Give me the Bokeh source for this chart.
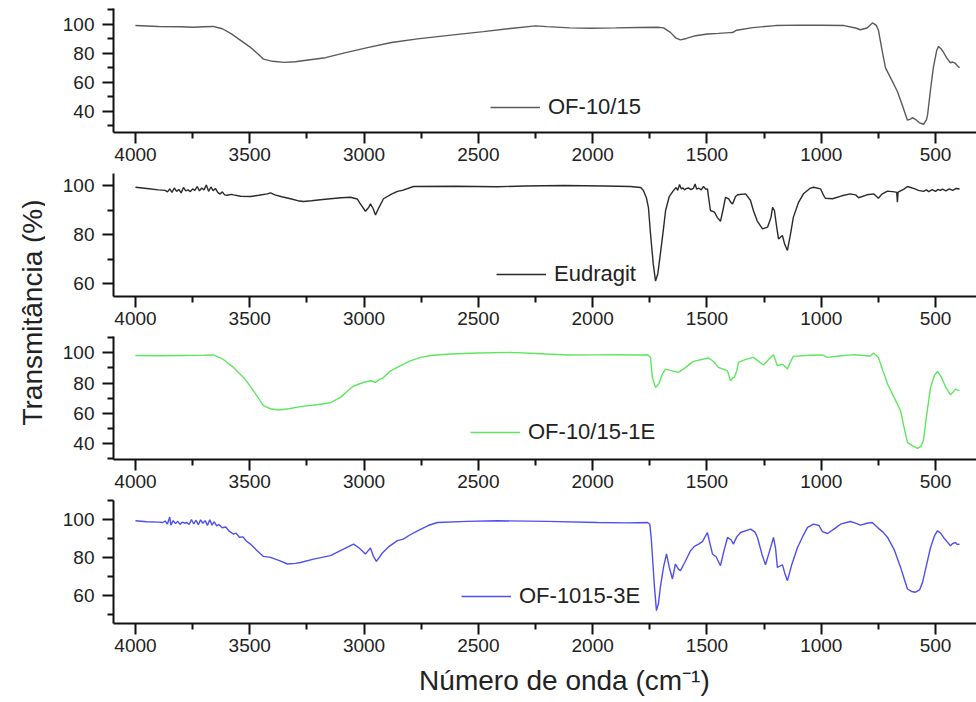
import math
from bokeh.plotting import figure
from bokeh.layouts import row, column
from bokeh.models import Range1d, FixedTicker, Legend, LegendItem, Label
from bokeh.embed import file_html
from bokeh.resources import INLINE

FONT = "Liberation Sans"
TEXT = "#222222"

# ---- FTIR spectra: wavenumber (cm-1) and transmittance (%) ----
wn_of1015 = [4000, 3900, 3800, 3750, 3700, 3660, 3620, 3580, 3540, 3500, 3460, 3440, 3400, 3350,
             3300, 3278, 3169, 3080, 2985, 2880, 2766, 2620, 2478, 2360, 2250, 2200, 2100, 2009,
             1900, 1800, 1716, 1690, 1660, 1635, 1616, 1590, 1550, 1498, 1450, 1400, 1388, 1370,
             1300, 1200, 1100, 1000, 900, 850, 829, 800, 776, 760, 750, 735, 719, 690, 667, 645,
             623, 610, 601, 585, 570, 553, 540, 535, 522, 510, 495, 487, 475, 465, 450, 435, 425,
             413, 405, 395]
t_of1015 = [99.3, 98.6, 98.4, 98.0, 98.4, 98.6, 97.0, 93.5, 89.0, 84.5, 79.0, 76.0, 74.5, 73.8,
            74.2, 74.7, 77.0, 80.5, 84.0, 87.5, 90.0, 92.6, 95.0, 97.2, 99.0, 98.5, 97.6, 97.4,
            97.6, 97.9, 98.0, 97.6, 94.5, 90.5, 89.3, 90.3, 92.2, 93.4, 93.8, 94.3, 94.4, 96.0,
            97.8, 99.2, 99.5, 99.4, 99.2, 97.5, 96.3, 97.5, 101.0, 99.5, 96.0, 83.0, 70.0, 61.0, 53.6, 44.0,
            33.8, 34.5, 35.6, 34.0, 32.0, 31.0, 34.0, 37.5, 55.0, 70.0, 82.0, 84.8, 83.0, 80.6, 76.5, 73.5, 74.0,
            73.0, 71.5, 70.0]

wn_eud = [4000, 3950, 3900, 3870, 3860, 3850, 3840, 3830, 3820, 3810, 3800, 3790, 3780, 3770,
          3760, 3750, 3740, 3730, 3720, 3710, 3700, 3690, 3680, 3670, 3660, 3650, 3640, 3630,
          3620, 3610, 3600, 3580, 3571, 3540, 3497, 3460, 3423, 3409, 3390, 3360, 3322, 3290,
          3265, 3230, 3191, 3147, 3100, 3060, 3030, 3016, 2994, 2980, 2972, 2960, 2950, 2935,
          2915, 2880, 2854, 2832, 2784, 2600, 2418, 2300, 2128, 1950, 1835, 1790, 1778, 1765,
          1756, 1747, 1735, 1725, 1715, 1704, 1692, 1681, 1665, 1646, 1635, 1628, 1620, 1612,
          1605, 1598, 1590, 1580, 1570, 1560, 1552, 1545, 1535, 1525, 1515, 1505, 1498, 1485,
          1467, 1455, 1441, 1430, 1419, 1405, 1395, 1388, 1375, 1366, 1331, 1310, 1297, 1280,
          1257, 1235, 1220, 1213, 1205, 1195, 1187, 1170, 1160, 1148, 1135, 1122, 1100, 1078,
          1050, 1034, 1003, 990, 982, 951, 910, 873, 850, 837, 800, 771, 750, 735, 710, 680,
          670, 667, 664, 640, 623, 590, 575, 553, 540, 530, 515, 500, 490, 479, 470, 455, 440,
          425, 410, 395]
t_eud = [99.3, 98.8, 98.2, 98.0, 97.4, 98.6, 97.2, 99.0, 97.6, 98.4, 97.0, 99.2, 97.8, 98.2,
         97.5, 98.6, 98.0, 99.6, 97.8, 99.0, 98.2, 100.2, 97.6, 99.4, 97.9, 98.8, 97.2, 96.5,
         97.4, 96.2, 96.0, 96.4, 96.2, 95.6, 95.5, 96.0, 96.6, 97.0, 96.2, 95.4, 94.6, 93.8,
         93.5, 93.8, 94.2, 94.6, 95.0, 95.2, 94.5, 92.5, 89.5, 91.0, 92.5, 90.5, 88.0, 91.0,
         94.6, 96.5, 97.6, 98.0, 99.6, 99.7, 99.5, 99.8, 100.0, 99.8, 99.6, 99.2, 98.0, 95.0,
         91.0, 80.3, 68.0, 61.0, 64.0, 72.0, 81.0, 89.8, 95.5, 98.0, 99.2, 98.0, 100.4, 98.6,
         99.0, 98.2, 98.8, 99.0, 98.3, 98.8, 100.6, 98.5, 98.9, 98.2, 99.6, 98.4, 98.6, 89.8,
         89.1, 87.0, 85.4, 90.0, 95.2, 94.5, 93.0, 92.5, 95.5, 96.2, 96.6, 94.0, 89.8, 85.5,
         82.3, 83.0, 87.0, 91.1, 89.8, 83.0, 78.2, 79.6, 76.0, 73.5, 80.0, 87.1, 93.0, 96.6,
         98.8, 99.3, 98.6, 96.0, 94.8, 94.6, 95.8, 96.6, 96.2, 95.0, 96.2, 96.6, 94.8, 96.5, 97.7, 97.4,
         97.2, 93.2, 97.3, 98.4, 99.6, 98.6, 98.0, 97.6, 98.2, 97.5, 98.3, 97.6, 98.4, 98.0, 98.5, 97.8, 98.6,
         98.0, 98.8, 98.6]

wn_of1e = [4000, 3900, 3800, 3700, 3658, 3620, 3571, 3520, 3480, 3440, 3410, 3374, 3330, 3278,
           3200, 3147, 3103, 3070, 3046, 3000, 2972, 2960, 2950, 2935, 2920, 2884, 2840, 2800,
           2753, 2700, 2622, 2500, 2360, 2250, 2110, 2000, 1900, 1791, 1760, 1747, 1739, 1725,
           1710, 1695, 1681, 1660, 1625, 1600, 1560, 1493, 1470, 1450, 1410, 1397, 1390, 1380,
           1370, 1362, 1330, 1297, 1253, 1230, 1209, 1192, 1170, 1148, 1135, 1122, 1050, 995,
           973, 920, 859, 785, 771, 750, 730, 710, 680, 653, 640, 623, 600, 579, 565, 553, 540,
           522, 505, 492, 475, 455, 435, 420, 413, 405, 395]
t_of1e = [98.2, 98.0, 98.2, 98.3, 98.5, 96.0, 90.3, 82.5, 74.0, 65.0, 63.0, 62.2, 63.0, 64.4,
          65.8, 67.0, 70.5, 75.0, 78.0, 80.5, 81.5, 81.0, 80.4, 82.2, 83.0, 88.0, 91.4, 94.5,
          96.9, 98.3, 99.1, 99.8, 100.2, 99.5, 98.5, 98.6, 98.7, 98.5, 98.7, 96.9, 83.7, 77.1,
          79.5, 86.0, 89.2, 88.3, 87.0, 89.5, 94.3, 96.5, 94.0, 90.3, 88.0, 81.5, 83.0, 83.7,
          88.0, 93.6, 95.6, 96.9, 91.9, 95.5, 98.7, 91.4, 92.5, 89.2, 94.0, 97.6, 98.3, 98.5,
          96.9, 97.8, 98.7, 97.8, 99.8, 96.9, 88.0, 79.3, 70.0, 61.7, 52.0, 40.8, 38.5, 36.8, 38.0, 42.0, 58.0,
          77.0, 85.0, 87.6, 84.0, 77.0, 72.3, 74.5, 76.0, 75.5, 75.0]

wn_of3e = [4000, 3950, 3900, 3880, 3870, 3860, 3850, 3845, 3835, 3825, 3815, 3805, 3795, 3785,
           3775, 3765, 3755, 3745, 3735, 3725, 3715, 3705, 3695, 3685, 3675, 3665, 3655, 3645,
           3635, 3620, 3605, 3590, 3571, 3560, 3545, 3530, 3515, 3497, 3470, 3440, 3409, 3370,
           3335, 3300, 3278, 3221, 3147, 3090, 3046, 3020, 2994, 2980, 2972, 2960, 2946, 2920,
           2890, 2854, 2828, 2800, 2766, 2720, 2679, 2550, 2418, 2200, 1979, 1850, 1760, 1750,
           1743, 1730, 1721, 1712, 1704, 1690, 1677, 1665, 1651, 1638, 1625, 1616, 1595, 1572,
           1555, 1537, 1520, 1498, 1490, 1476, 1460, 1441, 1425, 1410, 1395, 1384, 1370, 1353,
           1309, 1290, 1279, 1260, 1244, 1225, 1209, 1200, 1192, 1170, 1160, 1148, 1130, 1104,
           1080, 1060, 1034, 1010, 995, 973, 940, 916, 873, 850, 829, 800, 777, 750, 730, 710,
           680, 653, 635, 623, 605, 588, 570, 557, 540, 522, 505, 492, 478, 465, 450, 435, 425,
           413, 405, 395]
t_of3e = [99.5, 99.0, 98.8, 98.6, 99.4, 97.8, 101.5, 97.2, 99.6, 98.0, 99.2, 97.6, 98.8, 98.2,
          98.6, 97.5, 100.2, 97.8, 99.8, 97.4, 100.0, 98.2, 99.6, 97.0, 100.0, 97.2, 99.0, 96.8,
          97.6, 95.8, 96.2, 94.0, 92.5, 93.0, 90.8, 91.0, 88.8, 87.2, 84.0, 80.7, 80.2, 78.5,
          76.7, 77.0, 77.5, 79.3, 81.1, 84.5, 87.2, 85.0, 82.0, 84.0, 85.1, 81.0, 78.1, 82.5,
          86.0, 89.0, 89.8, 92.0, 94.2, 97.0, 98.6, 99.2, 99.5, 99.2, 98.6, 98.4, 98.6, 97.7,
          89.0, 65.0, 52.1, 56.0, 64.4, 75.0, 82.0, 75.0, 68.8, 76.7, 74.0, 73.2, 78.0, 83.7,
          86.0, 87.2, 88.5, 93.3, 89.0, 82.0, 80.5, 75.8, 84.0, 90.7, 89.5, 87.2, 91.0, 93.3,
          95.1, 93.5, 90.7, 82.0, 76.3, 84.0, 90.7, 85.0, 74.9, 76.3, 72.0, 67.9, 76.0, 85.4,
          91.5, 96.0, 97.7, 97.0, 93.8, 92.8, 95.5, 97.7, 99.1, 98.3, 97.2, 98.2, 98.6, 95.5, 93.5, 90.7,
          84.0, 74.9, 68.0, 63.5, 62.2, 61.8, 63.0, 67.0, 76.0, 85.4, 91.5, 94.2, 93.0, 90.7, 88.5, 86.3, 87.5,
          88.0, 87.0, 87.2]

series_names = ["OF-10/15", "Eudragit", "OF-10/15-1E", "OF-1015-3E"]
series_colors = ["#5a5a5a", "#2a2a2a", "#5fe65f", "#4f4fee"]

x_major = [4000, 3500, 3000, 2500, 2000, 1500, 1000, 500]
x_minor = [3750, 3250, 2750, 2250, 1750, 1250, 750]

y_ranges = [(25.3, 111.0), (54.7, 104.9), (29.5, 110.7), (45.3, 110.2)]
y_major = [[40, 60, 80, 100], [60, 80, 100], [40, 60, 80, 100], [60, 80, 100]]
y_minor = [[30, 50, 70, 90, 110], [70, 90], [30, 50, 70, 90, 110], [50, 70, 90, 110]]

x_title = "Número de onda (cm⁻¹)"
y_title = "Transmitância (%)"

# ---- layout in pixels ----
LEFT_W = 45           # strip holding the shared y title
PANEL_W = 976 - LEFT_W
FRAME_LEFT = 68       # frame starts 113 px from the page edge
borders = [(8, 39), (2, 38), (2, 38), (3, 79)]   # (top, bottom) border per panel
FRAME_H = [124, 123, 123, 123]
legend_xy = [(377, 12), (383, 9), (357, 14), (348, 14)]


def make_panel(i, wn, t):
    top, bottom = borders[i]
    p = figure(width=PANEL_W, height=top + FRAME_H[i] + bottom,
               x_range=Range1d(4096, 321), y_range=Range1d(*y_ranges[i]),
               toolbar_location=None, output_backend="svg",
               min_border_left=FRAME_LEFT, min_border_right=0,
               min_border_top=top, min_border_bottom=bottom)
    p.outline_line_color = None
    p.grid.visible = False
    p.background_fill_color = "white"
    p.border_fill_color = "white"

    r = p.line(wn, t, line_color=series_colors[i], line_width=1.4)

    for ax, ticks, minor in ((p.xaxis[0], x_major, x_minor), (p.yaxis[0], y_major[i], y_minor[i])):
        ax.ticker = FixedTicker(ticks=ticks, minor_ticks=minor)
        ax.axis_line_width = 2
        ax.axis_line_color = "#111111"
        ax.major_tick_line_width = 2
        ax.minor_tick_line_width = 2
        ax.major_tick_line_color = "#111111"
        ax.minor_tick_line_color = "#111111"
        ax.major_tick_in = 0
        ax.minor_tick_in = 0
        ax.major_tick_out = 11
        ax.minor_tick_out = 6
        ax.major_label_text_font = FONT
        ax.major_label_text_font_size = "19px"
        ax.major_label_text_color = TEXT
    p.xaxis[0].major_label_standoff = 4
    p.yaxis[0].major_label_standoff = 8

    legend = Legend(items=[LegendItem(label=series_names[i], renderers=[r])],
                    location=legend_xy[i], glyph_width=50, glyph_height=26,
                    label_height=26, label_standoff=8, padding=0, margin=0, spacing=0,
                    label_text_font=FONT, label_text_font_size="22px",
                    label_text_color=TEXT, border_line_alpha=0, background_fill_alpha=0)
    p.add_layout(legend, "center")
    return p


panels = [make_panel(0, wn_of1015, t_of1015),
          make_panel(1, wn_eud, t_eud),
          make_panel(2, wn_of1e, t_of1e),
          make_panel(3, wn_of3e, t_of3e)]

# shared x title as the axis label of the last panel; the leading
# no-break spaces nudge its centre to the right of the frame centre
xax = panels[3].xaxis[0]
xax.axis_label = "\u00a0" * 5 + x_title
xax.axis_label_standoff = 10
xax.axis_label_text_font = FONT
xax.axis_label_text_font_size = "28px"
xax.axis_label_text_font_style = "normal"
xax.axis_label_text_color = TEXT

# shared y title on the left
yt = figure(width=LEFT_W, height=702, x_range=Range1d(0, LEFT_W), y_range=Range1d(0, 702),
            toolbar_location=None, output_backend="svg", min_border=0,
            x_axis_location=None, y_axis_location=None)
yt.outline_line_color = None
yt.grid.visible = False
yt.border_fill_color = "white"
yt.add_layout(Label(x=32, y=702 - 312, text=y_title, angle=math.pi / 2, text_align="center",
                    text_baseline="alphabetic", text_font=FONT, text_font_size="28px",
                    text_color=TEXT))

layout = row(yt, column(*panels, spacing=0), spacing=0)

open("out.html", "w").write(file_html(layout, INLINE))
